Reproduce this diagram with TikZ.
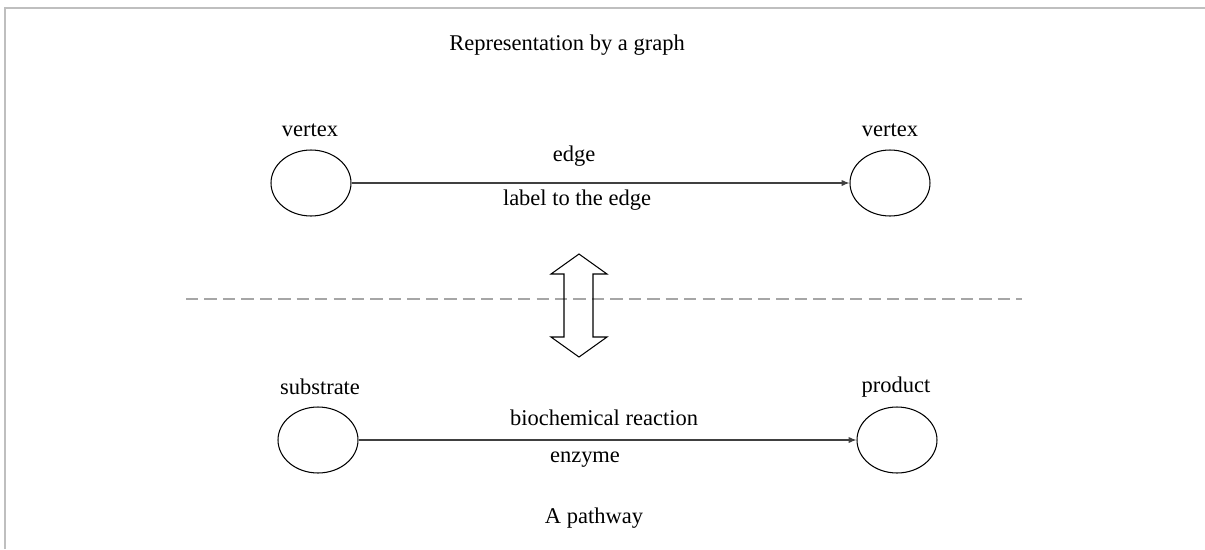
\documentclass[tikz,border=0pt]{standalone}
\usepackage{fontspec}
\setmainfont{Liberation Serif}
\usetikzlibrary{shapes.geometric,arrows.meta}

\begin{document}
\begin{tikzpicture}[x=0.02cm,y=-0.02cm,
    every node/.style={font=\rmfamily\fontsize{12.8}{15}\selectfont},
    vert/.style={draw,ellipse,line width=0.6pt,inner sep=0pt,minimum width=1.6cm,minimum height=1.32cm},
    link/.style={draw=black!75,line width=0.6pt,-{Latex[length=4.5pt,width=3.6pt]}}]
  \useasboundingbox (0,0) rectangle (1205,549);
  % frame
  \draw[black!25,line width=1.2pt] (5,549) -- (5,8) -- (1205,8);
  \node (title) at (567,45) {Representation by a graph};
  % graph
  \node[vert] (v1) at (311,183) {};
  \node[vert] (v2) at (890,183) {};
  \node (v1lab) at (310,130) {vertex};
  \node (v2lab) at (890,130) {vertex};
  \draw[link] (v1) -- (v2);
  \node (edge) at (574,156) {edge};
  \node (edgelab) at (577,200) {label to the edge};
  % separator
  \coordinate (sepl) at (186,299);
  \coordinate (sepr) at (1022,299);
  \draw[black!35,line width=0.8pt,dash pattern=on 7pt off 3.5pt] (sepl) -- (sepr);
  % double arrow
  \draw[line width=0.6pt] (579,254) -- (607,274) -- (593,274) -- (593,337) -- (607,337)
    -- (579,357) -- (551,337) -- (564,337) -- (564,274) -- (551,274) -- cycle;
  % pathway
  \node[vert] (s) at (318,440) {};
  \node[vert] (p) at (897,440) {};
  \node (slab) at (320,387) {substrate};
  \node (plab) at (896,387) {product};
  \draw[link] (s) -- (p);
  \node (react) at (604,418) {biochemical reaction};
  \node (enz) at (585,460) {enzyme};
  \node (pathway) at (594,518) {A pathway};
\end{tikzpicture}
\end{document}
